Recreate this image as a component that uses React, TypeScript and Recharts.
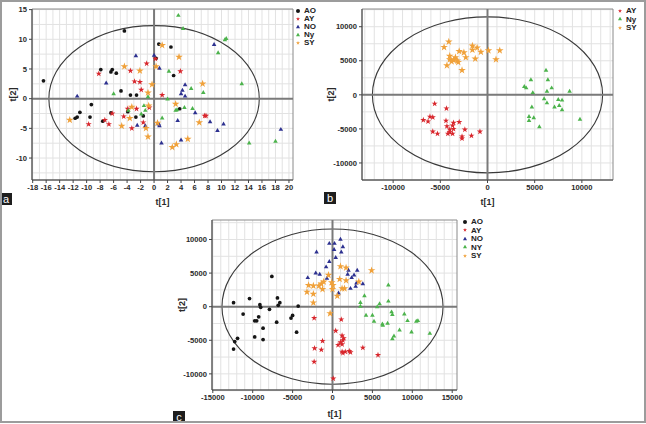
import React from 'react';
import { ScatterChart, Scatter, XAxis, YAxis, CartesianGrid, ReferenceLine, ReferenceArea, Legend, Symbols } from 'recharts';

type Pt = [number, number];

// panel a
const A_AO: Pt[] = [[-16.4, 3.0], [-4.4, 11.4], [0.7, 9.2], [2.5, 8.7], [0.3, 6.8], [-7.9, 4.9], [-6.2, 4.9], [-6.4, 4.5], [-5.6, 4.3], [2.9, 3.9], [-4.9, 1.3], [-3.5, 0.6], [-2.6, 0.6], [-9.3, -1.0], [-11.0, -2.3], [-11.4, -3.1], [-11.7, -3.3], [-9.5, -3.1], [-7.6, -3.8], [-6.4, -2.4], [-3.9, -2.2], [-2.7, -3.1], [-1.6, -2.9], [3.8, -1.7]];
const A_AY: Pt[] = [[0.2, 6.7], [-1.1, 5.9], [-3.5, 4.7], [-8.2, 4.2], [3.9, 4.6], [-2.9, 2.9], [-2.1, 2.8], [-1.9, 1.5], [1.2, 0.6], [-3.9, -1.7], [-2.6, -1.7], [-0.7, -1.5], [-4.5, -3.0], [-6.2, -2.5], [-7.3, -3.6], [-6.7, -4.3], [-9.7, -4.3], [-3.3, -5.0], [-1.6, -4.0], [7.5, -2.9], [7.7, -2.9]];
const A_NO: Pt[] = [[-2.7, 7.2], [0.0, 7.3], [0.8, 5.1], [-7.1, 2.6], [-11.4, 0.4], [4.6, 2.3], [4.2, 1.4], [4.0, 0.8], [4.6, 0.4], [-2.5, -4.5], [-1.3, -4.6], [0.8, -4.6], [0.7, -4.3], [3.5, -3.7], [6.1, -2.4], [8.3, -3.9], [8.9, 9.1], [10.3, -4.3], [9.4, -5.4], [18.8, -5.2], [1.1, -7.5], [4.0, -7.0]];
const A_NY: Pt[] = [[3.6, 14.0], [4.3, 11.8], [10.7, 10.1], [10.5, 9.9], [9.5, 7.7], [2.2, 4.6], [5.5, 1.7], [7.3, 1.0], [13.0, 2.5], [-6.0, 0.8], [-0.9, 0.3], [2.0, -0.1], [5.7, -1.7], [4.5, -1.5], [3.4, -1.9], [3.2, -2.0], [-1.5, -1.2], [-1.3, -2.0], [-1.9, -2.6], [-3.8, -2.0], [1.2, -3.3], [14.1, -7.5], [18.0, -7.2]];
const A_SY: Pt[] = [[1.2, 9.0], [3.7, 7.0], [-4.4, 5.4], [-2.1, 4.7], [0.3, 5.4], [-0.3, 2.4], [7.2, 2.5], [-0.9, 1.0], [-12.5, -3.6], [-3.3, -1.4], [-3.6, -3.3], [-4.8, -4.6], [-0.8, -1.2], [0.5, -4.1], [-1.2, -5.0], [-0.9, -6.4], [3.2, -0.9], [6.7, -4.0], [5.0, -6.8], [3.3, -7.7], [2.7, -8.2]];
const A_XTICKS = [-18, -16, -14, -12, -10, -8, -6, -4, -2, 0, 2, 4, 6, 8, 10, 12, 14, 16, 18, 20];
const A_YTICKS = [-10, -5, 0, 5, 10, 15];

// panel b
const B_AY: Pt[] = [[-5600, -1300], [-4350, -2000], [-6800, -3700], [-6100, -3200], [-5800, -3300], [-6300, -3900], [-4400, -3800], [-3600, -4100], [-3700, -4500], [-3000, -4000], [-4300, -4600], [-4000, -5100], [-3600, -5000], [-4000, -5500], [-4200, -5700], [-3700, -5700], [-5800, -5400], [-5300, -5700], [-2400, -5100], [-2700, -6100], [-2700, -6400], [-1700, -6000], [-800, -5400]];
const B_NY: Pt[] = [[6200, 3600], [4600, 2200], [6400, 2200], [3900, 1200], [4100, 1000], [6800, 1000], [6300, 500], [4800, 300], [8700, 500], [6000, -600], [7500, -700], [7900, -800], [6300, -1200], [4700, -1800], [7100, -1800], [7600, -1600], [7900, -2200], [4400, -3200], [4900, -3400], [4400, -3800], [5500, -4700], [9800, -3600]];
const B_SY: Pt[] = [[-4100, 7800], [-4600, 7000], [-1600, 7200], [-1100, 6900], [-1600, 6600], [-3000, 6400], [-2500, 6200], [-700, 6300], [100, 6500], [1300, 6500], [-4000, 5700], [-3400, 5500], [-4000, 5200], [-3600, 5100], [-3200, 5000], [-3100, 4800], [-3800, 4900], [-2300, 5500], [-1300, 5300], [900, 5200], [-4300, 4300], [-2700, 3600]];
const B_XTICKS = [-10000, -5000, 0, 5000, 10000];
const B_YTICKS = [-10000, -5000, 0, 5000, 10000];

// panel c
const C_AO: Pt[] = [[-7600, 4500], [-10400, 1200], [-12400, 600], [-6900, 1300], [-6600, 600], [-9100, 300], [-9000, -100], [-6800, 200], [-7900, -400], [-4300, 100], [-11200, -1100], [-9250, -1500], [-5000, -1300], [-5200, -1700], [-9750, -2100], [-9500, -2100], [-7000, -2300], [-8700, -3200], [-4500, -3800], [-9750, -4500], [-8700, -4900], [-11900, -4700], [-12250, -5200], [-12400, -6300]];
const C_AY: Pt[] = [[-2300, -1700], [1100, -1900], [400, -3600], [1200, -4300], [1400, -4700], [1300, -5000], [1000, -5300], [1200, -5600], [700, -5700], [-1250, -5100], [-2250, -6200], [-1400, -6400], [3800, -6100], [1200, -6700], [1300, -6900], [1600, -6700], [2100, -6600], [2250, -6800], [5700, -7200], [-2300, -8200], [100, -10700]];
const C_NO: Pt[] = [[1000, 10000], [-400, 9400], [250, 9400], [1300, 8900], [200, 8500], [-2000, 8100], [1100, 8100], [400, 7300], [-400, 6700], [-800, 5900], [2000, 5400], [3100, 5400], [-2100, 5000], [-1600, 4800], [1900, 4800], [2700, 4700], [-3100, 4300], [-700, 4200], [2400, 4300], [3000, 3500], [3800, 3400], [2900, 3000], [2250, 2700], [750, 2000]];
const C_NY: Pt[] = [[7000, 3200], [4000, 1600], [3500, 600], [5900, 400], [7000, 800], [3500, 50], [5600, -50], [7400, -800], [7500, -1200], [4200, -1300], [5000, -1300], [9000, -1100], [9400, -2100], [10500, -2200], [10700, -2100], [5200, -2200], [6250, -2600], [6300, -2800], [6900, -2500], [8400, -3500], [9900, -3800], [7700, -4400], [7500, -4800], [12200, -4000]];
const C_SY: Pt[] = [[1000, 6000], [1700, 5800], [4900, 5400], [-500, 4700], [900, 4100], [-1100, 3700], [-100, 3600], [1700, 3900], [3300, 3700], [-3000, 3200], [-2400, 3100], [-1700, 3100], [-1400, 3400], [50, 3200], [1200, 2700], [1500, 2700], [-1250, 2600], [0, 2600], [600, 1600], [-3200, 2200], [-2400, 1900], [-2400, 600], [-300, -1000]];
const C_XTICKS = [-15000, -10000, -5000, 0, 5000, 10000, 15000];
const C_YTICKS = [-10000, -5000, 0, 5000, 10000];

const COLORS = { AO: '#151515', AY: '#d8262c', NO: '#2d3190', NY: '#4cb34c', SY: '#f0a13a' };
const FONT = '"Liberation Sans", Arial, sans-serif';

const range = (from: number, to: number, step: number) => {
    const out: number[] = [];
    for (let v = from; v <= to + 1e-9; v += step) out.push(v);
    return out;
};

const toXY = (pts: Pt[]) => pts.map(([x, y]) => ({ x, y }));

const dot = (type: any, size: number, color: string) => (p: any) => (
    <Symbols cx={p.cx} cy={p.cy} type={type} size={size} fill={color} />
);

const EllipseShape = (p: any) => (
    <ellipse cx={p.x + p.width / 2} cy={p.y + p.height / 2} rx={p.width / 2} ry={p.height / 2} fill="none" stroke="#3a3a3a" strokeWidth={1.1} />
);

const SERIES = {
    AO: { color: COLORS.AO, type: 'circle', size: 11 },
    AY: { color: COLORS.AY, type: 'star', size: 12 },
    NO: { color: COLORS.NO, type: 'triangle', size: 9 },
    NY: { color: COLORS.NY, type: 'triangle', size: 9 },
    SY: { color: COLORS.SY, type: 'star', size: 18 },
};

const Panel = ({ cfg }: any) => {
    const tick = { fontSize: 7.6, fill: '#2a2a2a', fontFamily: FONT, fontWeight: 'bold' };
    const labelStyle = { fontSize: 9, fill: '#2a2a2a', fontFamily: FONT, fontWeight: 'bold' };
    const [x0, x1] = cfg.xDomain;
    const [y0, y1] = cfg.yDomain;
    return (
        <div style={{ position: 'absolute', left: cfg.left, top: cfg.top }}>
            <ScatterChart width={cfg.width} height={cfg.height} margin={{ top: 9, right: cfg.right, bottom: 0, left: 0 }}>
                <CartesianGrid verticalValues={cfg.xGrid} horizontalValues={cfg.yGrid} stroke="#e2e2e2" />
                <XAxis type="number" dataKey="x" domain={cfg.xDomain} ticks={cfg.xTicks} interval={0} allowDataOverflow
                    height={30} tickSize={3} tick={tick} axisLine={{ stroke: '#444' }} tickLine={{ stroke: '#444' }}
                    label={{ value: 't[1]', position: 'insideBottom', offset: cfg.xLabelOffset, style: labelStyle }} />
                <YAxis type="number" dataKey="y" domain={cfg.yDomain} ticks={cfg.yTicks} interval={0} allowDataOverflow
                    width={cfg.yWidth} tickSize={3} tick={tick} axisLine={{ stroke: '#444' }} tickLine={{ stroke: '#444' }}
                    label={{ value: 't[2]', angle: -90, position: 'insideLeft', offset: cfg.yLabelOffset, style: { ...labelStyle, textAnchor: 'middle' } }} />
                <ReferenceArea x1={x0} x2={x1} y1={y0} y2={y1} fill="none" stroke="#8a8a8a" />
                <ReferenceLine x={0} stroke="#7a7a7a" strokeWidth={2} />
                <ReferenceLine y={0} stroke="#7a7a7a" strokeWidth={2} />
                <ReferenceArea x1={-cfg.ellipse[0]} x2={cfg.ellipse[0]} y1={-cfg.ellipse[1]} y2={cfg.ellipse[1]} shape={EllipseShape} />
                {cfg.series.map((s: any) => (
                    <Scatter key={s.name} name={s.name} data={toXY(s.data)} legendType={s.type}
                        fill={s.color} shape={dot(s.type, s.size, s.color)} isAnimationActive={false} />
                ))}
                <Legend layout="vertical" align="center" verticalAlign="middle" iconSize={4}
                    wrapperStyle={{ left: cfg.legend[0], top: cfg.legend[1], width: 40, fontSize: 8, lineHeight: cfg.legendLine, fontFamily: FONT, fontWeight: 'bold' }}
                    formatter={(v: string) => <span style={{ color: '#222' }}>{v}</span>} />
            </ScatterChart>
        </div>
    );
};

const PANEL_A = {
    left: 0, top: 0, width: 325, height: 210, right: 32, yWidth: 32,
    xDomain: [-18.1, 20.6], yDomain: [-13.7, 15.1], xTicks: A_XTICKS, yTicks: A_YTICKS,
    xGrid: range(-18, 20, 1), yGrid: range(-12.5, 15, 2.5), ellipse: [15.6, 12.3],
    xLabelOffset: 5, yLabelOffset: 13, legend: [296, 7], legendLine: '8px',
    series: [
        { name: 'AO', data: A_AO, ...SERIES.AO },
        { name: 'AY', data: A_AY, ...SERIES.AY },
        { name: 'NO', data: A_NO, ...SERIES.NO },
        { name: 'Ny', data: A_NY, ...SERIES.NY },
        { name: 'SY', data: A_SY, ...SERIES.SY },
    ],
};

const PANEL_B = {
    left: 323, top: 0, width: 323, height: 210, right: 33, yWidth: 39,
    xDomain: [-13300, 13300], yDomain: [-12500, 12600], xTicks: B_XTICKS, yTicks: B_YTICKS,
    xGrid: range(-13000, 13000, 1000), yGrid: range(-12500, 12500, 2500), ellipse: [12200, 11450],
    xLabelOffset: 5, yLabelOffset: 8, legend: [295, 7], legendLine: '8.5px',
    series: [
        { name: 'AY', data: B_AY, ...SERIES.AY },
        { name: 'Ny', data: B_NY, ...SERIES.NY },
        { name: 'SY', data: B_SY, ...SERIES.SY },
    ],
};

const PANEL_C = {
    left: 170, top: 211, width: 340, height: 209, right: 53, yWidth: 42,
    xDomain: [-15100, 15600], yDomain: [-12400, 12900], xTicks: C_XTICKS, yTicks: C_YTICKS,
    xGrid: range(-15000, 15000, 1000), yGrid: range(-12500, 12500, 2500), ellipse: [13850, 11550],
    xLabelOffset: 3, yLabelOffset: 12, legend: [293, 7], legendLine: '8.5px',
    series: [
        { name: 'AO', data: C_AO, ...SERIES.AO },
        { name: 'AY', data: C_AY, ...SERIES.AY },
        { name: 'NO', data: C_NO, ...SERIES.NO },
        { name: 'NY', data: C_NY, ...SERIES.NY },
        { name: 'SY', data: C_SY, ...SERIES.SY },
    ],
};

const Tag = ({ text, left, top }: { text: string; left: number; top: number }) => (
    <div style={{
        position: 'absolute', left, top, width: 12, height: 12, background: '#1e1e1e', color: '#fff',
        fontFamily: FONT, fontSize: 11, lineHeight: '12px', textAlign: 'center',
    }}>{text}</div>
);

export default function App() {
    return (
        <div style={{ position: 'fixed', left: 0, top: 0, width: 646, height: 424, background: '#fff', overflow: 'hidden' }}>
            <Panel cfg={PANEL_A} />
            <Panel cfg={PANEL_B} />
            <Panel cfg={PANEL_C} />
            <Tag text="a" left={0} top={193} />
            <Tag text="b" left={324} top={192} />
            <Tag text="c" left={173} top={411} />
            <div style={{ position: 'absolute', left: 0, top: 0, width: 646, height: 423, boxSizing: 'border-box', border: '2px solid #9c9c9c', pointerEvents: 'none' }} />
        </div>
    );
}
